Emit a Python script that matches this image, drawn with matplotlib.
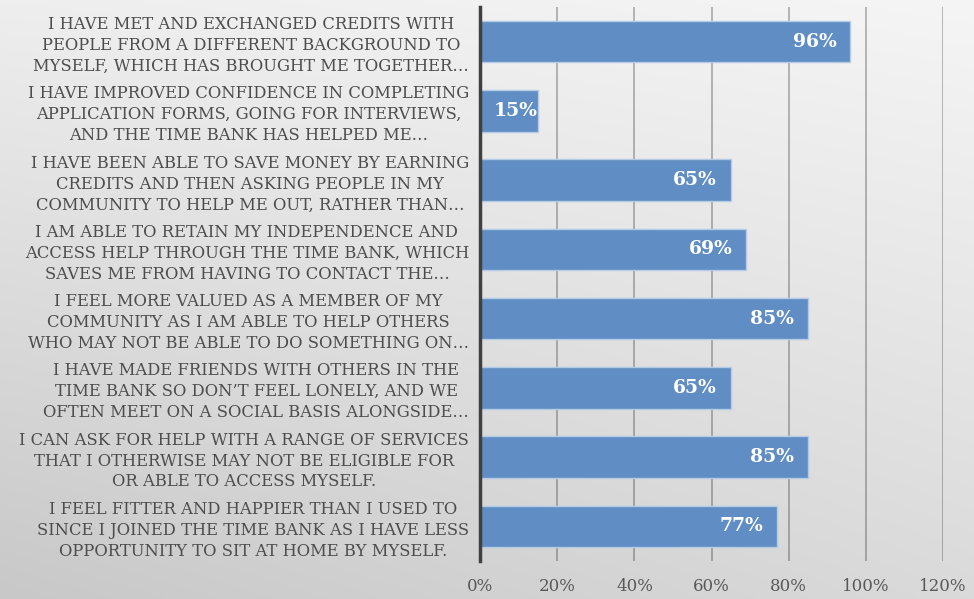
import numpy as np
import matplotlib
matplotlib.use('Agg')
import matplotlib.pyplot as plt
from matplotlib.ticker import PercentFormatter

# Survey statements (wrapped / truncated as in the original chart)
statements = [
    'I HAVE MET AND EXCHANGED CREDITS WITH\nPEOPLE FROM A DIFFERENT BACKGROUND TO\nMYSELF, WHICH HAS BROUGHT ME TOGETHER…',
    'I HAVE IMPROVED CONFIDENCE IN COMPLETING\nAPPLICATION FORMS, GOING FOR INTERVIEWS,\nAND THE TIME BANK HAS HELPED ME…',
    'I HAVE BEEN ABLE TO SAVE MONEY BY EARNING\nCREDITS AND THEN ASKING PEOPLE IN MY\nCOMMUNITY TO HELP ME OUT, RATHER THAN…',
    'I AM ABLE TO RETAIN MY INDEPENDENCE AND\nACCESS HELP THROUGH THE TIME BANK, WHICH\nSAVES ME FROM HAVING TO CONTACT THE…',
    'I FEEL MORE VALUED AS A MEMBER OF MY\nCOMMUNITY AS I AM ABLE TO HELP OTHERS\nWHO MAY NOT BE ABLE TO DO SOMETHING ON…',
    'I HAVE MADE FRIENDS WITH OTHERS IN THE\nTIME BANK SO DON’T FEEL LONELY, AND WE\nOFTEN MEET ON A SOCIAL BASIS ALONGSIDE…',
    'I CAN ASK FOR HELP WITH A RANGE OF SERVICES\nTHAT I OTHERWISE MAY NOT BE ELIGIBLE FOR\nOR ABLE TO ACCESS MYSELF.',
    'I FEEL FITTER AND HAPPIER THAN I USED TO\nSINCE I JOINED THE TIME BANK AS I HAVE LESS\nOPPORTUNITY TO SIT AT HOME BY MYSELF.',
]
percent_agree = [0.96, 0.15, 0.65, 0.69, 0.85, 0.65, 0.85, 0.77]
x_ticks = [0, 0.2, 0.4, 0.6, 0.8, 1.0, 1.2]

label_color = '#4d4d4d'
bar_color = '#5f8dc4'
serif = ['DejaVu Serif']

fig = plt.figure(figsize=(9.74, 5.99), dpi=100)

# gradient background
bg = fig.add_axes([0, 0, 1, 1], zorder=-10)
corners = np.array([[0xee, 0xf5], [0xc8, 0xda]]) / 255.0  # top-left, top-right / bottom-left, bottom-right
u = np.linspace(0, 1, 200)
v = np.linspace(0, 1, 200)[:, None]
grad = (corners[0, 0] * (1 - u) * (1 - v) + corners[0, 1] * u * (1 - v)
        + corners[1, 0] * (1 - u) * v + corners[1, 1] * u * v)
bg.imshow(np.dstack([grad] * 3), aspect='auto', extent=[0, 1, 0, 1], origin='upper')
bg.axis('off')

ax = fig.add_axes([0.493, 0.0634, 0.475, 0.925])
ax.patch.set_alpha(0)

y = np.arange(len(statements))
bars = ax.barh(y, percent_agree, height=0.6, color=bar_color,
               edgecolor='#b4cbe6', linewidth=1.0, zorder=3)

for yi, val in zip(y, percent_agree):
    # short bars: label pushed up against the bar end, like Excel does
    pad = -10 if val > 0.25 else 0
    ax.annotate(f'{val:.0%}', xy=(val, yi), xytext=(pad, 0), textcoords='offset points',
                ha='right', va='center', color='white', fontsize=13.5,
                fontweight='bold', family=serif, zorder=4)

ax.set_ylim(len(statements) - 0.5, -0.5)
ax.set_xlim(0, 1.2)
ax.set_yticks(y)
ax.set_yticklabels(statements, family=serif, fontsize=11.8, color=label_color,
                   multialignment='center', linespacing=1.3)
ax.set_xticks(x_ticks)
ax.xaxis.set_major_formatter(PercentFormatter(1.0, decimals=0))
for lab in ax.get_xticklabels():
    lab.set_family(serif)
    lab.set_fontsize(12)
    lab.set_color('#595959')

ax.tick_params(axis='both', length=0)
ax.tick_params(axis='x', pad=12)
ax.tick_params(axis='y', pad=8)

ax.grid(axis='x', color='black', alpha=0.28, linewidth=1.3, zorder=0)
ax.set_axisbelow(True)
for side in ['top', 'right', 'bottom']:
    ax.spines[side].set_visible(False)
ax.spines['left'].set_color('#404040')
ax.spines['left'].set_linewidth(2.5)
ax.spines['left'].set_zorder(5)

fig.savefig('out.png', dpi=100)
